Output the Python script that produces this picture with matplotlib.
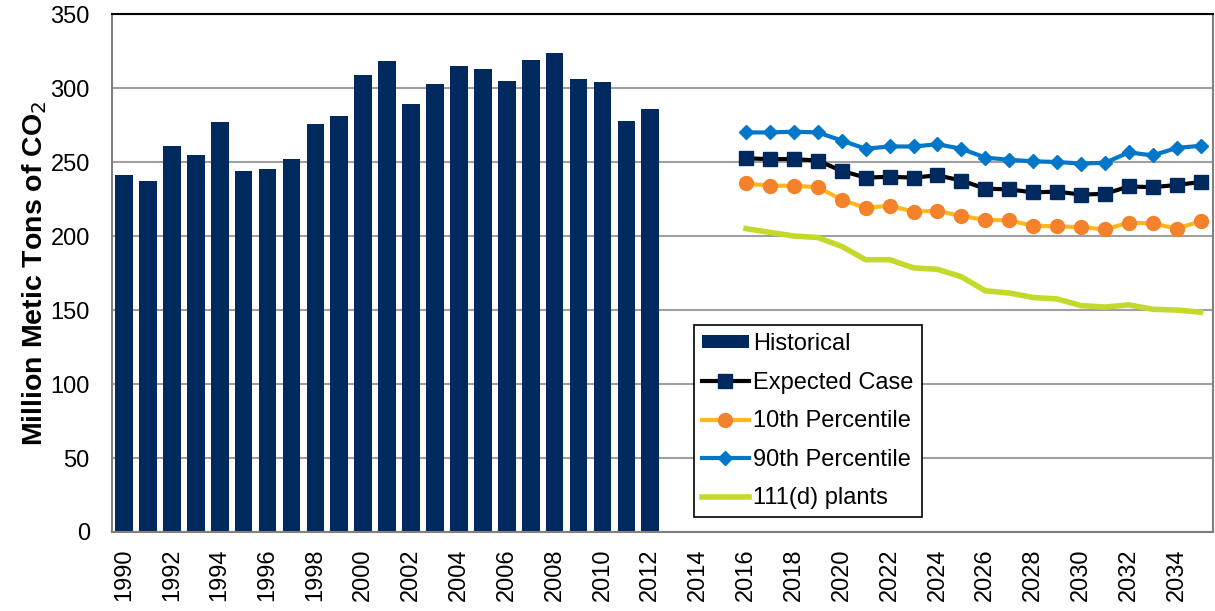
import numpy as np
from matplotlib import pyplot as plt

plt.rcParams['font.family'] = ['Liberation Sans', 'DejaVu Sans']

years = list(range(1990, 2036))

hist_years = list(range(1990, 2013))
historical = [241, 237, 261, 255, 277, 244, 245, 252, 276, 281, 309, 318, 289, 303,
              315, 313, 305, 319, 324, 306, 304, 278, 286]

proj_years = list(range(2016, 2036))
expected = [252.5, 252, 252, 251, 244, 239.5, 240, 239.5, 241, 237.5, 232, 231.5, 229.5,
            230, 228, 228.5, 233.5, 233, 234.5, 236.5]
pct10 = [235.5, 234, 234, 233, 224.5, 219, 220.5, 216.5, 217, 213.5, 211, 210.5, 207,
         206.5, 206, 204.5, 209, 208.5, 205, 210]
pct90 = [270, 270, 270.5, 270, 264.5, 259, 260.5, 260.5, 262, 259, 253, 251.5, 250.5,
         250, 249, 249.5, 256.5, 254.5, 259.5, 261]
plants_111d = [205, 202.5, 200, 199, 193, 184, 184, 178.5, 177.5, 172.5, 163, 161.5, 158.5,
               157.5, 153, 152, 153.5, 150.5, 150, 148.5]

fig = plt.figure(figsize=(12.15, 6.11), dpi=100)
ax = fig.add_axes([0.0922, 0.1293, 0.9058, 0.8477])

x_hist = [years.index(y) for y in hist_years]
x_proj = [years.index(y) for y in proj_years]

bars = ax.bar(x_hist, historical, width=0.74, color='#002A5E', label='Historical', zorder=2)
l1, = ax.plot(x_proj, expected, color='black', linewidth=3, marker='s', markersize=10,
              markerfacecolor='#002A5E', markeredgecolor='#002A5E', label='Expected Case', zorder=3)
l2, = ax.plot(x_proj, pct10, color='#FFB81C', linewidth=3, marker='o', markersize=10,
              markerfacecolor='#F4822A', markeredgecolor='#F4822A', label='10th Percentile', zorder=3)
l3, = ax.plot(x_proj, pct90, color='#0077C8', linewidth=3, marker='D', markersize=7,
              markerfacecolor='#0077C8', markeredgecolor='#0077C8', label='90th Percentile', zorder=3)
l4, = ax.plot(x_proj, plants_111d, color='#C5D92D', linewidth=4, label='111(d) plants', zorder=3)

ax.set_xlim(-0.5, len(years) - 0.5)
ax.set_ylim(0, 350)
ax.set_yticks(range(0, 351, 50))
ax.yaxis.grid(True, color='#A0A0A0', linewidth=1.5, zorder=0)
ax.set_axisbelow(True)

ax.set_xticks(range(0, len(years), 2))
ax.set_xticklabels([str(y) for y in years[::2]], rotation=90)
ax.tick_params(axis='x', length=0, pad=12, labelsize=17)
ax.tick_params(axis='y', length=0, pad=16, labelsize=17)

for s in ['left', 'bottom', 'right']:
    ax.spines[s].set_color('#808080')
    ax.spines[s].set_linewidth(1.5)
ax.spines['top'].set_color('black')
ax.spines['top'].set_linewidth(1.5)

ax.set_ylabel('Million Metic Tons of CO$_2$', fontsize=20.5, fontweight='bold')
ax.yaxis.set_label_coords(-0.057, 0.5)

leg = ax.legend([bars, l1, l2, l3, l4],
                ['Historical', 'Expected Case', '10th Percentile', '90th Percentile', '111(d) plants'],
                loc='lower left', bbox_to_anchor=(0.529, 0.028), fontsize=17,
                frameon=True, fancybox=False, edgecolor='black', framealpha=1,
                handlelength=1.95, handleheight=0.5, handletextpad=0.2,
                labelspacing=0.7, borderpad=0.35, borderaxespad=0)
leg.get_frame().set_linewidth(1.2)

plt.savefig('out.png', dpi=100)
